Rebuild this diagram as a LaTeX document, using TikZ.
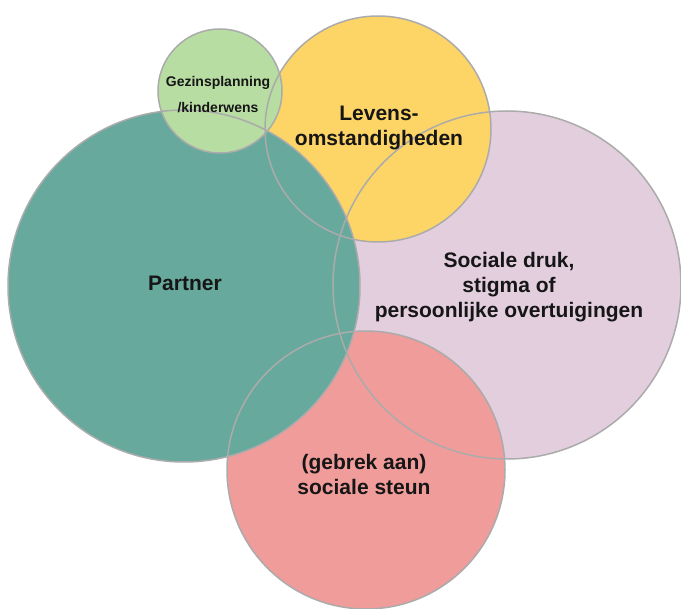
\documentclass[tikz,border=0pt]{standalone}
\usepackage{fontspec}
\setmainfont{Liberation Sans}
\definecolor{cteal}{HTML}{67A99C}
\definecolor{cyellow}{HTML}{FDD567}
\definecolor{cpink}{HTML}{E3CEDE}
\definecolor{cred}{HTML}{F09C9A}
\definecolor{cgreen}{HTML}{B8DDA2}
\definecolor{cline}{HTML}{ABABAB}
\definecolor{ctext}{HTML}{161616}
\tikzset{
  outline/.style={draw=cline, line width=1.5pt},
  bigtext/.style={font=\bfseries\fontsize{21}{25}\selectfont, text=ctext, align=center, inner sep=0pt},
  smalltext/.style={font=\bfseries\fontsize{14}{26}\selectfont, text=ctext, align=center, inner sep=0pt}
}
\begin{document}
\begin{tikzpicture}[x=1pt,y=-1pt]
\useasboundingbox (0,0) rectangle (681,609);
\fill[white] (0,0) rectangle (681,609);
% fills, bottom to top
\fill[cpink]   (507,285) circle[radius=174pt];
\fill[cyellow] (378,129) circle[radius=113pt];
\fill[cred]    (366,470) circle[radius=139pt];
\fill[cteal]   (184,286) circle[radius=176pt];
\fill[cgreen]  (220,91)  circle[radius=62pt];
% outlines on top
\draw[outline] (507,285) circle[radius=174pt];
\draw[outline] (378,129) circle[radius=113pt];
\draw[outline] (366,470) circle[radius=139pt];
\draw[outline] (184,286) circle[radius=176pt];
\draw[outline] (220,91)  circle[radius=62pt];
% labels
\node[smalltext] (gezin) at (218,94.3) {Gezinsplanning\\/kinderwens};
\node[bigtext] (levens) at (379,128.5) {Levens-\\omstandigheden};
\node[bigtext, anchor=base] (partner) at (185,291) {Partner};
\node[bigtext] (sociaal) at (509,287.5) {Sociale druk,\\stigma of\\persoonlijke overtuigingen};
\node[bigtext] (steun) at (364,474) {(gebrek aan)\\sociale steun};
\end{tikzpicture}
\end{document}
